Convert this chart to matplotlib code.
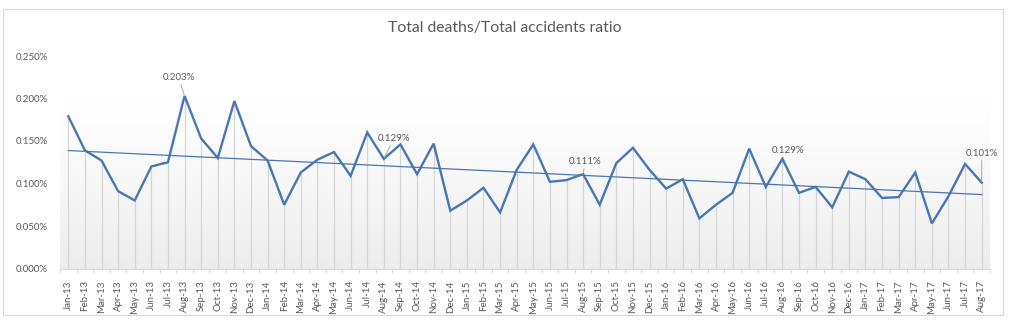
import numpy as np
import matplotlib
matplotlib.use("Agg")
import matplotlib.pyplot as plt
from matplotlib.patches import Rectangle

months = ["Jan", "Feb", "Mar", "Apr", "May", "Jun", "Jul", "Aug", "Sep", "Oct", "Nov", "Dec"]
labels = [f"{m}-{y}" for y in range(13, 18) for m in months][:56]

ratio_pct = [0.179, 0.139, 0.127, 0.091, 0.080, 0.120, 0.125, 0.203, 0.153, 0.130, 0.197, 0.144,
             0.127, 0.075, 0.113, 0.128, 0.137, 0.109, 0.160, 0.129, 0.146, 0.111, 0.147, 0.068,
             0.080, 0.095, 0.066, 0.116, 0.146, 0.102, 0.104, 0.111, 0.075, 0.124, 0.142, 0.116,
             0.094, 0.105, 0.059, 0.075, 0.089, 0.141, 0.096, 0.129, 0.089, 0.096, 0.072, 0.114,
             0.105, 0.083, 0.084, 0.113, 0.053, 0.085, 0.123, 0.101]

# labelled points: index -> (offset x px, offset y px)
label_idx = [7, 19, 31, 43, 55]
label_off = [(-6, 14), (10, 16), (2, 8), (6, 4), (0, 25)]

title = "Total deaths/Total accidents ratio"
yticks = [0.0, 0.05, 0.10, 0.15, 0.20, 0.25]

W, H = 1016, 321
fig = plt.figure(figsize=(W / 100, H / 100), dpi=100)
plt.rcParams['font.family'] = ['Lato', 'DejaVu Sans']
gray_txt = "#595959"
blue = "#4a76b4"

left, right, top, bottom = 60, 990, 56, 268.5
ax = fig.add_axes([left / W, 1 - bottom / H, (right - left) / W, (bottom - top) / H])

x = np.arange(len(ratio_pct))
y = np.array(ratio_pct)

# gradient background
grad = np.linspace(0, 1, 256).reshape(-1, 1) ** 1.3
c_top = np.array([1.0, 1.0, 1.0])
c_bot = np.array([0.925, 0.925, 0.925])
img = c_top[None, None, :] * (1 - grad[:, :, None]) + c_bot[None, None, :] * grad[:, :, None]
ax.imshow(img, extent=[-0.5, 55.5, 0, 0.205], aspect='auto', zorder=0, origin='upper')

ax.vlines(x, 0, y, color="#d6d6d6", lw=0.9, zorder=1)
ax.plot(x, y, color=blue, lw=1.7, zorder=3, solid_joinstyle='miter')

coef = np.polyfit(x, y, 1)
ax.plot([x[0], x[-1]], np.polyval(coef, [x[0], x[-1]]), color=blue, lw=0.9, zorder=2)

for i, (dx, dy) in zip(label_idx, label_off):
    ax.annotate(f"{ratio_pct[i]:.3f}%", xy=(i, ratio_pct[i]), xytext=(dx * 0.72, dy * 0.72),
                textcoords='offset points', ha='center', va='bottom', fontsize=7, color=gray_txt,
                arrowprops=dict(arrowstyle='-', color='#a6a6a6', lw=0.7, shrinkA=0, shrinkB=1),
                zorder=4)

ax.set_xlim(-0.5, 55.5)
ax.set_ylim(0, 0.25)
ax.set_yticks(yticks)
ax.set_yticklabels([f"{v:.3f}%" for v in yticks], fontsize=7, color=gray_txt)
ax.set_xticks(x)
ax.set_xticklabels(labels, rotation=90, fontsize=7, color=gray_txt)
ax.set_xticks(np.arange(-0.5, 56, 1), minor=True)
ax.tick_params(axis='x', which='major', length=0, pad=8.5)
ax.tick_params(axis='x', which='minor', length=3, color='#d9d9d9', width=0.8)
ax.tick_params(axis='y', length=0, pad=8.6)
for s in ['top', 'right', 'left']:
    ax.spines[s].set_visible(False)
ax.spines['bottom'].set_color('#d9d9d9')
ax.spines['bottom'].set_linewidth(0.8)
ax.set_facecolor('white')

fig.text(505 / W, 1 - 28 / H, title, ha='center', va='center', fontsize=11.3, color=gray_txt)
fig.patches.append(Rectangle((3 / W, 1 - 315 / H), 1000 / W, 306 / H, transform=fig.transFigure,
                             fill=False, edgecolor='#d9d9d9', lw=0.8))

fig.savefig("out.png", dpi=100)
